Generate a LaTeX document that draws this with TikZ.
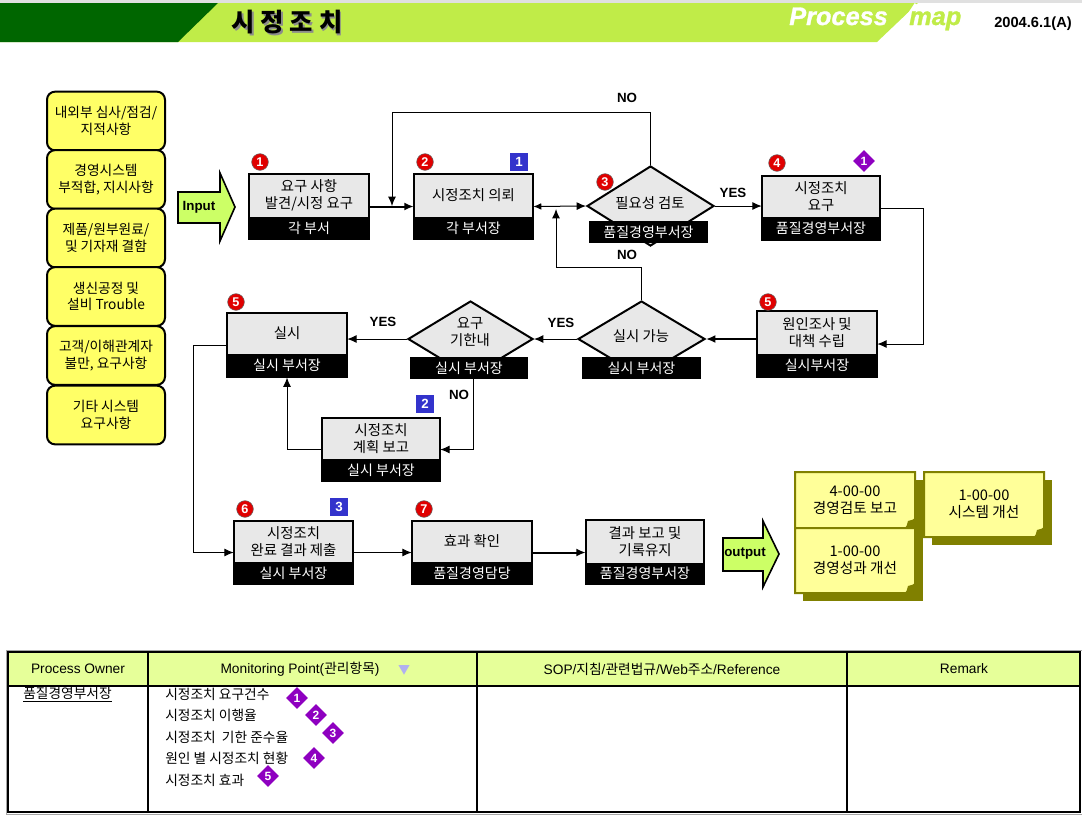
\documentclass[tikz,border=0pt]{standalone}
\usepackage{fontspec}
\setmainfont{Liberation Sans}
\newfontfamily\kr{Noto Sans CJK KR}
\usetikzlibrary{arrows.meta,calc,fit,shapes.geometric}
\definecolor{dgreen}{HTML}{006600}
\definecolor{lgreen}{HTML}{C0EC48}
\definecolor{boxgray}{HTML}{E8E8E8}
\definecolor{yel}{HTML}{FFFF66}
\definecolor{arrgreen}{HTML}{CCFF66}
\definecolor{badgered}{HTML}{E00000}
\definecolor{sqblue}{HTML}{3333CC}
\definecolor{dpurple}{HTML}{8E00C0}
\definecolor{docyel}{HTML}{FFFF99}
\definecolor{docolive}{HTML}{808000}
\definecolor{thead}{HTML}{E6FF99}
\definecolor{tri}{HTML}{B0B0F0}
\tikzset{
 arr/.style={-{Latex[length=7pt,width=6pt]}, line width=0.75pt},
 tarr/.style={-{Latex[length=7pt,width=6pt]}, line width=1.5pt},
 lbl/.style={font=\bfseries\fontsize{10}{11}\selectfont, inner sep=0},
 boxtxt/.style={font=\kr\fontsize{10.8}{12.5}\selectfont, align=center, inner sep=0},
 bandtxt/.style={font=\kr\fontsize{10.5}{11}\selectfont, text=white, inner sep=0},
 badge/.style={circle, fill=badgered, draw=black!60, line width=0.4pt, text=white, font=\bfseries\fontsize{9.5}{9.5}\selectfont, inner sep=0, minimum size=12.5pt},
 sqbadge/.style={fill=sqblue, text=white, font=\bfseries\fontsize{10}{10}\selectfont, inner sep=0, minimum size=13.5pt},
 dbadge/.style={diamond, fill=dpurple, text=white, font=\bfseries\fontsize{9}{9}\selectfont, inner sep=0, minimum size=16.5pt},
 ybox/.style={draw, line width=1.5pt, rounded corners=6pt, fill=yel, align=center, minimum width=88.5pt, minimum height=44pt, inner sep=0, font=\kr\fontsize{10.3}{12.5}\selectfont},
 dia/.style={diamond, draw, line width=1.5pt, fill=boxgray, inner sep=0},
 ttxt/.style={font=\fontsize{10.3}{12}\selectfont, inner sep=0},
 itxt/.style={font=\kr\fontsize{10.3}{12}\selectfont, inner sep=0, anchor=west},
 doctxt/.style={font=\kr\fontsize{11}{12.5}\selectfont, align=center, inner sep=0},
 pmap/.style={font=\bfseries\itshape\fontsize{19}{19}\selectfont\addfontfeature{FakeBold=1.2}, inner sep=0, anchor=base west},
}
\newcommand\pbox[8]{%
  \fill[boxgray] (#2,#3) rectangle (#4,#6);
  \fill[black] (#2,#6) rectangle (#4,#5);
  \draw[line width=1.5pt] (#2,#3) rectangle (#4,#5);
  \node[inner sep=0, fit={(#2,#3)(#4,#5)}] (#1) {};
  \node[boxtxt] (#1t) at ($(#2,#3)!0.5!(#4,#6)$) {#7};
  \node[bandtxt] (#1b) at ($(#2,#6)!0.5!(#4,#5)$) {#8};
}
\newcommand\band[6]{%
  \fill[black] (#2,#3) rectangle (#4,#5);
  \node[bandtxt] (#1) at ($(#2,#3)!0.5!(#4,#5)$) {#6};
}
\newcommand\docbox[6]{%
  \fill[docolive] (#2+8,#3+8) rectangle (#4+8,#5+8);
  \filldraw[fill=docyel, draw=docolive, line width=1.5pt] (#2,#3) -- (#4,#3) -- (#4,#5-9) -- (#4-9,#5) -- (#2,#5) -- cycle;
  \fill[docolive] (#4,#5-9) -- (#4-9,#5) -- (#4-7,#5-7) -- cycle;
  \node[inner sep=0, fit={(#2,#3)(#4,#5)}] (#1) {};
  \node[doctxt] (#1t) at ($(#2,#3)!0.5!(#4,#5)$) {#6};
}
\begin{document}
\begin{tikzpicture}[x=0.75pt,y=-0.75pt]
\useasboundingbox (0,0) rectangle (1082,818);
\fill[white] (0,0) rectangle (1082,818);
% header
\fill[black!12] (0,0) rectangle (1082,3);
\fill[lgreen] (0,3) -- (918,3) -- (877,42) -- (0,42) -- cycle;
\fill[dgreen] (0,3) -- (218,3) -- (178,42) -- (0,42) -- cycle;
\node[font=\kr\bfseries\fontsize{19}{19}\selectfont, text=black!45, inner sep=0] (titles) at (288.5,24) {시 정 조 치};
\node[font=\kr\bfseries\fontsize{19}{19}\selectfont, inner sep=0] (title) at (287,22.5) {시 정 조 치};
\node[pmap, text=white] (proc) at (789,25) {Process};
\draw[white, line width=2.4pt] (916,4) -- (900,28);
\node[pmap, text=lgreen] (map) at (909,25) {map};
\node[font=\bfseries\fontsize{11}{11}\selectfont, inner sep=0] (date) at (1033,24) {2004.6.1(A)};
% left inputs
\node[ybox] (L1) at (106,121) {내외부 심사/점검/\\지적사항};
\node[ybox] (L2) at (106,179.5) {경영시스템\\부적합, 지시사항};
\node[ybox] (L3) at (106,238) {제품/원부원료/\\및 기자재 결함};
\node[ybox] (L4) at (106,296.5) {생신공정 및\\설비 Trouble};
\node[ybox] (L5) at (106,355.5) {고객/이해관계자\\불만, 요구사항};
\node[ybox] (L6) at (106,415) {기타 시스템\\요구사항};
% input arrow
\filldraw[fill=arrgreen, line width=1.2pt] (178,192) -- (220,192) -- (220,173) -- (235,207) -- (220,241) -- (220,223) -- (178,223) -- cycle;
\node[lbl] (inp) at (199,207) {Input};
% process boxes
\pbox{b1}{249}{174}{369}{239}{217}{요구 사항\\발견/시정 요구}{각 부서}
\pbox{b2}{414}{174}{533}{239}{217}{시정조치 의뢰}{각 부서장}
\pbox{b4}{762}{176}{880}{240}{217}{시정조치\\요구}{품질경영부서장}
\pbox{b5r}{757}{311}{877}{377}{354}{원인조사 및\\대책 수립}{실시부서장}
\pbox{b5l}{227}{313}{347}{377}{354}{실시}{실시 부서장}
\pbox{b9}{322}{418}{440}{481}{459}{시정조치\\계획 보고}{실시 부서장}
\pbox{b6}{234}{521}{353}{584}{562}{시정조치\\완료 결과 제출}{실시 부서장}
\pbox{b7}{412}{521}{532}{584}{562}{효과 확인}{품질경영담당}
\pbox{b8}{586}{520}{704}{584}{563}{결과 보고 및\\기록유지}{품질경영부서장}
% diamonds
\node[dia, minimum width=95.25pt, minimum height=60pt] (d3) at (650.5,206) {};
\band{d3b}{589}{221}{708}{243}{품질경영부서장}
\node[boxtxt] (d3t) at (650,203) {필요성 검토};
\node[dia, minimum width=95.25pt, minimum height=57pt] (d5) at (641.5,339) {};
\band{d5b}{582}{357}{701}{379}{실시 부서장}
\node[boxtxt] (d5t) at (641,336) {실시 가능};
\node[dia, minimum width=93.75pt, minimum height=57pt] (d6) at (470.5,339) {};
\band{d6b}{410}{357}{528}{379}{실시 부서장}
\node[boxtxt] (d6t) at (470,332) {요구\\기한내};
% helper coordinates
\coordinate (top) at (0,112);
\coordinate (j1) at (392,206);
\coordinate (mid) at (0,267);
\coordinate (j2) at (556,209);
\coordinate (rx) at (923,0);
\coordinate (n6) at (473,379);
\coordinate (u5) at (287,377.5);
\coordinate (lx) at (193,0);
% connectors
\draw[tarr] (b1.east) -- (b2.west);
\draw[arr] (d3.north) -- (d3.north |- top) -| (j1);
\draw[arr, {Latex[length=6pt,width=5pt]}-{Latex[length=7pt,width=6pt]}] (b2.east) -- (d3.west);
\draw[arr] (d3.east) -- (d3.east -| b4.west);
\draw[arr] (b4.east) -| (rx |- b5r.east) -- (b5r.east);
\draw[tarr] (b5r.west |- d5.east) -- (d5.east);
\draw[arr] (d5.north) -- (d5.north |- mid) -| (j2);
\draw[arr] (d5.west) -- (d6.east);
\draw[arr] (d6.west) -- (d6.west -| b5l.east);
\draw[arr] (n6) |- (b9.east);
\draw[arr] (b9.west) -| (u5);
\draw[arr] (b5l.west) -| (lx |- b6.west) -- (b6.west);
\draw[arr] (b6.east) -- (b7.west);
\draw[tarr] (b7.east) -- (b8.west |- b7.east);
% labels
\node[lbl] (no1) at (627,98) {NO};
\node[lbl] (yes1) at (733,193) {YES};
\node[lbl] (no2) at (627,255) {NO};
\node[lbl] (yes2) at (561,323) {YES};
\node[lbl] (yes3) at (383,322) {YES};
\node[lbl] (no3) at (459,395) {NO};
% badges
\node[badge] (r1) at (260,162) {1};
\node[badge] (r2) at (425,162) {2};
\node[badge] (r3) at (605,182) {3};
\node[badge] (r4) at (777,163) {4};
\node[badge] (r5a) at (768,302) {5};
\node[badge] (r5b) at (236,302) {5};
\node[badge] (r6) at (245,509) {6};
\node[badge] (r7) at (424,509) {7};
\node[sqbadge] (s1) at (519,162) {1};
\node[sqbadge] (s2) at (425,404) {2};
\node[sqbadge] (s3) at (339,507) {3};
\node[dbadge] (p1) at (864,161) {1};
% output arrow
\filldraw[fill=arrgreen, line width=1.2pt] (723,538) -- (763,538) -- (763,521) -- (779,554) -- (763,587) -- (763,571) -- (723,571) -- cycle;
\node[lbl] (outp) at (745,554) {output};
% output documents
\docbox{docA}{795}{472}{915}{528}{4-00-00\\경영검토 보고}
\docbox{docB}{795}{528}{915}{593}{1-00-00\\경영성과 개선}
\docbox{docC}{924}{472}{1044}{537}{1-00-00\\시스템 개선}
% table
\fill[thead] (8,652) rectangle (1080,686);
\draw[black!35, line width=0.6pt] (6,650) rectangle (1082,814);
\draw[line width=1pt] (8,652) rectangle (1080,812);
\draw[line width=1pt] (8,686) -- (1080,686);
\draw[line width=1pt] (148,652) -- (148,812);
\draw[line width=1pt] (477,652) -- (477,812);
\draw[line width=1pt] (847,652) -- (847,812);
\node[ttxt] (h1) at (78,669) {Process Owner};
\node[ttxt] (h2) at (300,669) {Monitoring Point({\kr 관리항목})};
\node[ttxt, text=tri, font=\kr\fontsize{9}{9}\selectfont] (h2t) at (404,670) {▼};
\node[ttxt] (h3) at (662,669) {SOP/{\kr 지침}/{\kr 관련법규}/Web{\kr 주소}/Reference};
\node[ttxt] (h4) at (964,669) {Remark};
\node[itxt] (own) at (23,695) {\underline{품질경영부서장}};
\node[itxt] (m1) at (165,694) {시정조치 요구건수};
\node[itxt] (m2) at (165,715) {시정조치 이행율};
\node[itxt] (m3) at (165,737) {시정조치 \ 기한 준수율};
\node[itxt] (m4) at (165,758) {원인 별 시정조치 현황};
\node[itxt] (m5) at (165,780) {시정조치 효과};
\node[dbadge] (q1) at (297,698) {1};
\node[dbadge] (q2) at (316,715) {2};
\node[dbadge] (q3) at (333,733) {3};
\node[dbadge] (q4) at (314,758) {4};
\node[dbadge] (q5) at (268,776) {5};
\end{tikzpicture}
\end{document}
